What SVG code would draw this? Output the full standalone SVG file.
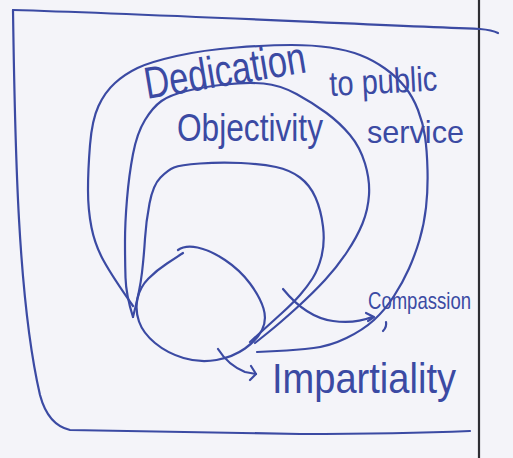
<svg xmlns="http://www.w3.org/2000/svg" width="513" height="458" viewBox="0 0 513 458">
<style>
.ink{fill:none;stroke:#3b4aa3;stroke-width:2.2;stroke-linecap:round;stroke-linejoin:round}
.lbl{font-family:"Liberation Sans","DejaVu Sans",sans-serif;fill:#3b4aa3}
</style>
<rect x="0" y="0" width="513" height="458" fill="#f4f4f9"/>
<line x1="479" y1="0" x2="479" y2="458" stroke="#2e2e33" stroke-width="2.2"/>
<g id="frame">
<path class="ink" d="M13,10 C150,14 350,24 480,29 Q492,30 498,33"/>
<path class="ink" d="M13,10 C15,150 18,300 40,395 Q48,425 70,430 L300,434 Q400,434 470,431"/>
</g>
<g id="dedication">
<path class="ink" d="M133,306 Q112,276 103.5,260.5 Q95,245 91.5,227.5 Q88,210 88,190 Q88,170 90,145 Q92,120 98.5,106 Q105,92 115,83 Q125,74 137.5,68 Q150,62 176.5,56 Q203,50 236.5,47.5 Q270,45 291.5,45 Q313,45 330,47.5 Q347,50 360,55 Q373,60 385,68.5 Q397,77 405,87 Q413,97 418,110 Q423,123 425,136.5 Q427,150 427.5,170 Q428,190 426,207.5 Q424,225 419.5,240 Q415,255 409,268.5 Q403,282 394,296 Q385,310 374,320 Q363,330 346.5,338 Q330,346 313.5,348 Q297,350 277,351 L257,352"/>
<text class="lbl" x="147" y="99" font-size="45" textLength="163" lengthAdjust="spacingAndGlyphs" transform="rotate(-9.5 147 99)">Dedication</text>
<text class="lbl" x="330" y="96" font-size="35" textLength="108" lengthAdjust="spacingAndGlyphs" transform="rotate(-3 330 96)">to public</text>
<text class="lbl" x="367" y="143" font-size="32" textLength="97" lengthAdjust="spacingAndGlyphs">service</text>
</g>
<g id="objectivity">
<path class="ink" d="M133,317 Q126,295 125.5,277.5 Q125,260 125,241.5 Q125,223 127,199 Q129,175 133,154 Q137,133 145,120 Q153,107 161.5,101 Q170,95 186.5,91 Q203,87 225,84.5 Q247,82 263.5,83.5 Q280,85 296.5,94 Q313,103 326.5,113 Q340,123 350,135 Q360,147 365,163.5 Q370,180 369,195 Q368,210 362.5,223.5 Q357,237 347,252 Q337,267 325,280 Q313,293 296.5,308 Q280,323 267.5,333 L255,343"/>
<text class="lbl" x="177" y="141" font-size="38" textLength="146" lengthAdjust="spacingAndGlyphs">Objectivity</text>
</g>
<g id="compassion">
<path class="ink" d="M133,317 Q140,290 142,272.5 Q144,255 145,238.5 Q146,222 149.5,203.5 Q153,185 160.5,177.5 Q168,170 174,167.5 Q180,165 200,163.5 Q220,162 241,163 Q262,164 276,167 Q290,170 300,177.5 Q310,185 315.5,197.5 Q321,210 323,226.5 Q325,243 321.5,256.5 Q318,270 312.5,278.5 Q307,287 300,295 Q293,303 282.5,312.5 Q272,322 261,332 L250,342"/>
<text class="lbl" x="368" y="309" font-size="24" textLength="103" lengthAdjust="spacingAndGlyphs">Compassion</text>
</g>
<g id="impartiality">
<path class="ink" d="M178,250 Q185,245 197.5,247.5 Q210,250 225,260 Q240,270 250,283.5 Q260,297 263.5,308.5 Q267,320 262,330 Q257,340 245,348.5 Q233,357 216.5,360 Q200,363 183.5,358 Q167,353 155,343 Q143,333 139,321.5 Q135,310 137.5,298.5 Q140,287 148.5,278.5 Q157,270 167,263.5 Q177,257 183,253"/>
<text class="lbl" x="272" y="393" font-size="42" textLength="184" lengthAdjust="spacingAndGlyphs">Impartiality</text>
</g>
<g id="connectors">
<path class="ink" d="M283,289 C292,300 310,318 333,321 C348,323 362,321 372,317"/>
<path class="ink" d="M366,313 L374,317 L368,321"/>
<path class="ink" d="M386,322 Q387,327 383,331"/>
<path class="ink" d="M218,349 Q228,365 245,372 L256,374"/>
<path class="ink" d="M251,366 L256,374 L250,380"/>
</g>
</svg>
